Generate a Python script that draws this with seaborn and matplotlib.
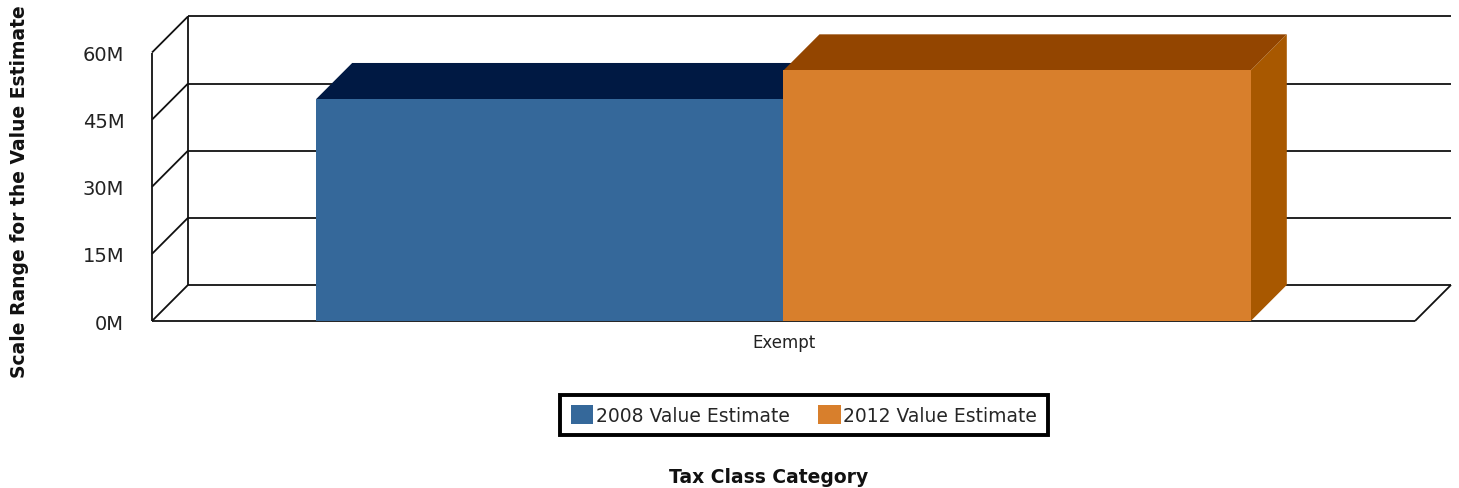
import matplotlib
matplotlib.use("Agg")
import matplotlib.pyplot as plt
import seaborn as sns
import pandas as pd
from matplotlib.patches import Polygon, Patch
from matplotlib.ticker import FuncFormatter

# Data
categories = ["Exempt"]
series = ["2008 Value Estimate", "2012 Value Estimate"]
values_2008 = [49.6e6]
values_2012 = [56.0e6]
y_ticks = [0, 15e6, 30e6, 45e6, 60e6]

df = pd.DataFrame({
    "category": categories * 2,
    "series": [series[0]] * len(categories) + [series[1]] * len(categories),
    "value": values_2008 + values_2012,
})

front_colors = {series[0]: "#35689A", series[1]: "#D87F2C"}
top_colors = ["#001943", "#934500"]
side_colors = ["#1F4A78", "#A85800"]

sns.set_theme(style="white")
plt.rcParams["font.family"] = ["DejaVu Sans"]

fig = plt.figure(figsize=(14.59, 4.89), dpi=100)
ax = fig.add_axes([152 / 1459, 1 - 322 / 489, 1263 / 1459, 268.5 / 489])

sns.barplot(data=df, x="category", y="value", hue="series", palette=front_colors,
            width=0.74, saturation=1, ax=ax, legend=False, zorder=3, linewidth=0)

ax.set_xlim(-0.5, 0.5)
ax.set_ylim(0, 60e6)

# depth of the pseudo-3D box, in data units
DX = 0.0285
DY = 8.06e6
x0, x1 = ax.get_xlim()
ytop = ax.get_ylim()[1]
lc = dict(color="#111111", lw=1.3, clip_on=False, zorder=1, solid_capstyle="butt")

# back wall gridlines and left wall diagonals
for t in y_ticks:
    ax.plot([x0 + DX, x1 + DX], [t + DY, t + DY], **lc)
    ax.plot([x0, x0 + DX], [t, t + DY], **lc)
ax.plot([x0, x0], [0, ytop], **lc)
ax.plot([x0 + DX, x0 + DX], [DY, ytop + DY], **lc)
ax.plot([x0, x1], [0, 0], **lc)
ax.plot([x1, x1 + DX], [0, DY], **lc)

# top and side faces of each bar
for i, bar in enumerate(ax.patches):
    bx, bw, bh = bar.get_x(), bar.get_width(), bar.get_height()
    top = Polygon([(bx, bh), (bx + DX, bh + DY), (bx + bw + DX, bh + DY), (bx + bw, bh)],
                  closed=True, facecolor=top_colors[i], edgecolor="none",
                  clip_on=False, zorder=3 + i * 0.1)
    side = Polygon([(bx + bw, 0), (bx + bw + DX, DY), (bx + bw + DX, bh + DY), (bx + bw, bh)],
                   closed=True, facecolor=side_colors[i], edgecolor="none",
                   clip_on=False, zorder=3 + i * 0.1)
    bar.set_zorder(3.05 + i * 0.1)
    bar.set_linewidth(0)
    ax.add_patch(top)
    ax.add_patch(side)

for s in ax.spines.values():
    s.set_visible(False)

ax.set_yticks(y_ticks)
ax.yaxis.set_major_formatter(FuncFormatter(lambda v, p: f"{int(v / 1e6)}M"))
ax.tick_params(axis="y", length=0, pad=20, labelsize=14, labelcolor="#222222")
ax.tick_params(axis="x", length=0, pad=9, labelsize=12, labelcolor="#222222")

ax.set_ylabel("Scale Range for the Value Estimate", fontsize=13.5, fontweight="bold",
              color="#111111")
ax.yaxis.set_label_coords(-0.097, 0.485)
ax.set_xlabel("Tax Class Category", fontsize=13.5, fontweight="bold", color="#111111")
ax.xaxis.set_label_coords(0.488, -0.545)

handles = [Patch(facecolor=front_colors[s], edgecolor="none") for s in series]
leg = fig.legend(handles, series, loc="center", bbox_to_anchor=(804 / 1459, 1 - 416 / 489),
                 ncol=2, frameon=True, fancybox=False, framealpha=1, fontsize=13.5,
                 handlelength=1.2, handleheight=1.2, handletextpad=0.15,
                 columnspacing=1.5, borderpad=0.55)
leg.get_frame().set_edgecolor("black")
leg.get_frame().set_linewidth(2.8)

fig.savefig("out.png", dpi=100, facecolor="white")
